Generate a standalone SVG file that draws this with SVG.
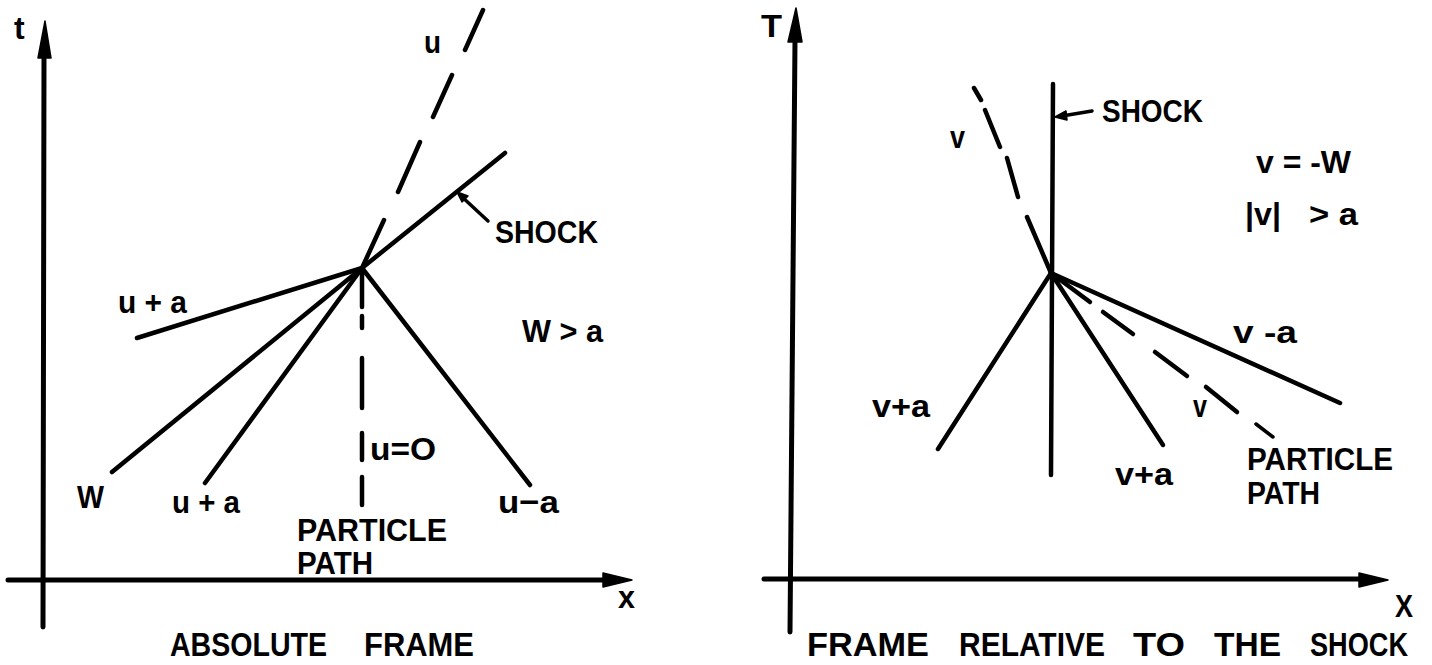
<svg xmlns="http://www.w3.org/2000/svg" width="1432" height="665" viewBox="0 0 1432 665">
<style>
.ln{stroke:#000;stroke-width:4.5;stroke-linecap:round;fill:none}
.ax{stroke:#000;stroke-width:5;stroke-linecap:round;fill:none}
.lt{stroke:#000;stroke-width:3.5;stroke-linecap:round;fill:none}
.hd{fill:#000;stroke:#000;stroke-width:1.5;stroke-linejoin:round}
.lb{font-family:"Liberation Sans",Arial,sans-serif;font-weight:bold;font-size:32px;fill:#000}
.tt{font-family:"Liberation Sans",Arial,sans-serif;font-weight:bold;font-size:34px;fill:#000}
</style>
<rect width="1432" height="665" fill="#fff"/>

<g id="connectors">
  <!-- LEFT PANEL: absolute frame -->
  <g id="left-axes">
    <line class="ax" x1="43" y1="627" x2="44" y2="55"/>
    <path class="hd" d="M45,21 L51,58 L38,58 Z"/>
    <line class="ax" x1="8" y1="580" x2="606" y2="580"/>
    <path class="hd" d="M632,580 L603,573 L603,587 Z"/>
  </g>
  <g id="left-lines">
    <line class="ln" x1="362" y1="268" x2="505" y2="153"/>
    <line class="ln" x1="362" y1="268" x2="137" y2="338"/>
    <line class="ln" x1="362" y1="268" x2="112" y2="472"/>
    <line class="ln" x1="362" y1="268" x2="205" y2="483"/>
    <line class="ln" x1="362" y1="268" x2="530" y2="485"/>
    <!-- u dashed -->
    <path class="ln" d="M362,268 L384,220 M398,192 L420,142 M433,117 L452,75 M465,50 L483,10"/>
    <!-- u=0 particle path dashed -->
    <path class="ln" d="M362,268 L362,307 M362,316 L362,328 M362,358 L362,408 M362,433 L362,460 M362,477 L362,505"/>
    <!-- shock leader -->
    <line class="lt" x1="460" y1="195" x2="488" y2="221"/>
    <path class="hd" d="M457,192 L468,196 L462,202 Z"/>
  </g>

  <!-- RIGHT PANEL: frame relative to the shock -->
  <g id="right-axes">
    <line class="ax" x1="790" y1="632" x2="795" y2="40"/>
    <path class="hd" d="M796,8 L802,42 L788,42 Z"/>
    <line class="ax" x1="764" y1="579" x2="1362" y2="579"/>
    <path class="hd" d="M1388,580 L1359,573 L1359,587 Z"/>
  </g>
  <g id="right-lines">
    <line class="ln" x1="1053" y1="84" x2="1051" y2="475"/>
    <line class="ln" x1="1051" y1="273" x2="938" y2="449"/>
    <line class="ln" x1="1051" y1="273" x2="1163" y2="445"/>
    <line class="ln" x1="1051" y1="273" x2="1340" y2="403"/>
    <!-- v dashed upward -->
    <path class="ln" d="M1051,273 L1027,217 M1018,197 L1007,158 M1000,147 L985,110 M981,100 L974,88"/>
    <!-- particle path dashed -->
    <path class="ln" d="M1051,273 L1090,302 M1103,312 L1133,334 M1155,352 L1187,376 M1206,387 L1237,412"/>
    <!-- particle path leader -->
    <line class="lt" x1="1256" y1="424" x2="1273" y2="437"/>
    <!-- shock leader -->
    <line class="lt" x1="1092" y1="111" x2="1062" y2="116"/>
    <path class="hd" d="M1055,117 L1066,111 L1067,120 Z"/>
  </g>
</g>

<g id="left-labels">
  <g id="lbl-t"><text class="lb" x="14" y="39" font-size="34">t</text></g>
  <g id="lbl-x"><text class="lb" x="618" y="608" textLength="17" lengthAdjust="spacingAndGlyphs">x</text></g>
  <g id="lbl-u"><text class="lb" x="424" y="53" textLength="17" lengthAdjust="spacingAndGlyphs">u</text></g>
  <g id="lbl-shock-l"><text class="lb" x="495" y="243" textLength="103" lengthAdjust="spacingAndGlyphs">SHOCK</text></g>
  <g id="lbl-upa-1"><text class="lb" x="118" y="313" textLength="69" lengthAdjust="spacingAndGlyphs">u + a</text></g>
  <g id="lbl-wga"><text class="lb" x="522" y="342" textLength="81" lengthAdjust="spacingAndGlyphs">W &gt; a</text></g>
  <g id="lbl-u0"><text class="lb" x="370" y="460" textLength="66" lengthAdjust="spacingAndGlyphs">u=O</text></g>
  <g id="lbl-W"><text class="lb" x="77" y="508" textLength="27" lengthAdjust="spacingAndGlyphs">W</text></g>
  <g id="lbl-upa-2"><text class="lb" x="172" y="513" textLength="68" lengthAdjust="spacingAndGlyphs">u + a</text></g>
  <g id="lbl-uma"><text class="lb" x="498" y="513" textLength="61" lengthAdjust="spacingAndGlyphs">u−a</text></g>
  <g id="lbl-pp-l">
    <text class="lb" x="297" y="541" font-size="30" textLength="150" lengthAdjust="spacingAndGlyphs">PARTICLE</text>
    <text class="lb" x="297" y="574" font-size="30" textLength="76" lengthAdjust="spacingAndGlyphs">PATH</text>
  </g>
  <g id="title-l">
    <text class="tt" x="170" y="656" textLength="157" lengthAdjust="spacingAndGlyphs">ABSOLUTE</text>
    <text class="tt" x="364" y="656" textLength="110" lengthAdjust="spacingAndGlyphs">FRAME</text>
  </g>
</g>

<g id="right-labels">
  <g id="lbl-T"><text class="lb" x="761" y="37" textLength="21" lengthAdjust="spacingAndGlyphs">T</text></g>
  <g id="lbl-X"><text class="lb" x="1395" y="617" textLength="18" lengthAdjust="spacingAndGlyphs">X</text></g>
  <g id="lbl-v-top"><text class="lb" x="950" y="148" textLength="15" lengthAdjust="spacingAndGlyphs">v</text></g>
  <g id="lbl-shock-r"><text class="lb" x="1102" y="122" textLength="101" lengthAdjust="spacingAndGlyphs">SHOCK</text></g>
  <g id="lbl-vw"><text class="lb" x="1256" y="173" textLength="95" lengthAdjust="spacingAndGlyphs">v = -W</text></g>
  <g id="lbl-absv">
    <text class="lb" x="1245" y="225" textLength="36" lengthAdjust="spacingAndGlyphs">|v|</text>
    <text class="lb" x="1309" y="225" textLength="49" lengthAdjust="spacingAndGlyphs">&gt; a</text>
  </g>
  <g id="lbl-vma"><text class="lb" x="1233" y="343" textLength="64" lengthAdjust="spacingAndGlyphs">v -a</text></g>
  <g id="lbl-vpa-l"><text class="lb" x="872" y="417" textLength="58" lengthAdjust="spacingAndGlyphs">v+a</text></g>
  <g id="lbl-v-mid"><text class="lb" x="1193" y="417" textLength="14" lengthAdjust="spacingAndGlyphs">v</text></g>
  <g id="lbl-vpa-r"><text class="lb" x="1115" y="485" textLength="58" lengthAdjust="spacingAndGlyphs">v+a</text></g>
  <g id="lbl-pp-r">
    <text class="lb" x="1247" y="470" textLength="146" lengthAdjust="spacingAndGlyphs">PARTICLE</text>
    <text class="lb" x="1247" y="504" textLength="73" lengthAdjust="spacingAndGlyphs">PATH</text>
  </g>
  <g id="title-r">
    <text class="tt" x="807" y="656" textLength="122" lengthAdjust="spacingAndGlyphs">FRAME</text>
    <text class="tt" x="959" y="656" textLength="146" lengthAdjust="spacingAndGlyphs">RELATIVE</text>
    <text class="tt" x="1133" y="656" textLength="52" lengthAdjust="spacingAndGlyphs">TO</text>
    <text class="tt" x="1214" y="656" textLength="67" lengthAdjust="spacingAndGlyphs">THE</text>
    <text class="tt" x="1310" y="656" textLength="98" lengthAdjust="spacingAndGlyphs">SHOCK</text>
  </g>
</g>
</svg>
